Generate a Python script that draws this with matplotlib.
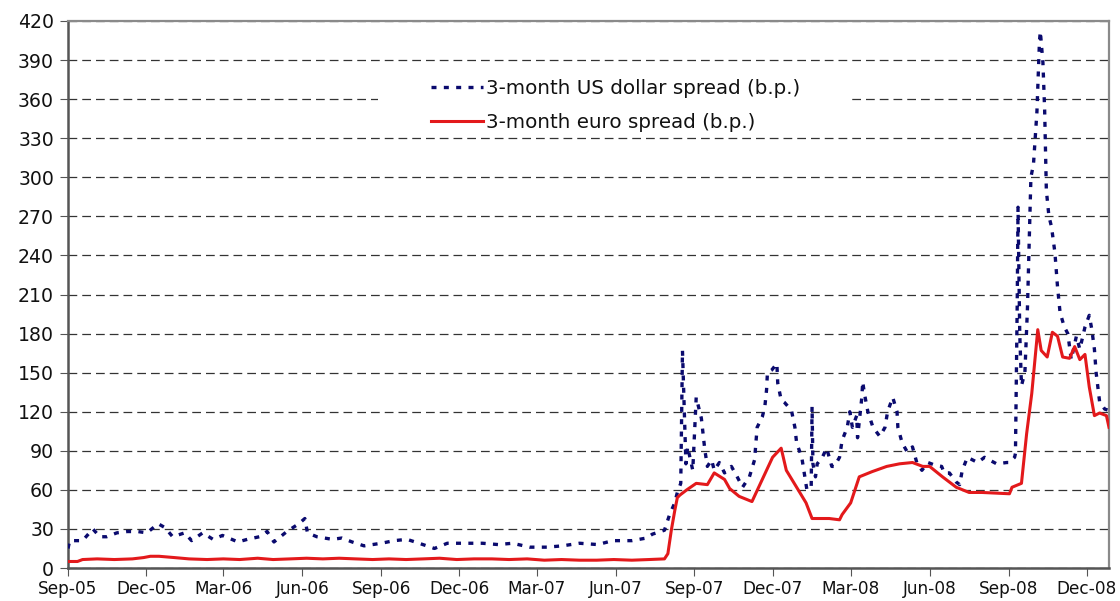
import numpy as np
import pandas as pd
import matplotlib
matplotlib.use('Agg')
import matplotlib.pyplot as plt
import matplotlib.dates as mdates
from matplotlib.patches import Rectangle

# 3-month US dollar spread (b.p.)
usd_dates = [
    '2005-09-01', '2005-09-03', '2005-09-18', '2005-09-30', '2005-10-08', '2005-10-16',
    '2005-10-28', '2005-11-09', '2005-11-21', '2005-12-02', '2005-12-15', '2005-12-23',
    '2006-01-01', '2006-01-15', '2006-01-23', '2006-02-05', '2006-02-17', '2006-02-28',
    '2006-03-18', '2006-03-29', '2006-04-12', '2006-04-21', '2006-04-29', '2006-05-14',
    '2006-05-28', '2006-06-04', '2006-06-07', '2006-06-18', '2006-07-06', '2006-07-17',
    '2006-07-29', '2006-08-12', '2006-09-01', '2006-09-16', '2006-10-01', '2006-10-15',
    '2006-11-02', '2006-11-17', '2006-12-07', '2006-12-28', '2007-01-15', '2007-02-01',
    '2007-02-21', '2007-03-13', '2007-03-31', '2007-04-20', '2007-05-11', '2007-05-29',
    '2007-06-20', '2007-07-07', '2007-07-14', '2007-07-28', '2007-08-03', '2007-08-09',
    '2007-08-12', '2007-08-16', '2007-08-18', '2007-08-22', '2007-08-24', '2007-08-30',
    '2007-09-03', '2007-09-09', '2007-09-13', '2007-09-16', '2007-09-21', '2007-09-24',
    '2007-09-30', '2007-10-06', '2007-10-14', '2007-10-20', '2007-10-27', '2007-11-04',
    '2007-11-10', '2007-11-13', '2007-11-19', '2007-11-22', '2007-11-24', '2007-11-25',
    '2007-11-30', '2007-12-06', '2007-12-07', '2007-12-11', '2007-12-15', '2007-12-23',
    '2007-12-27', '2007-12-29', '2008-01-04', '2008-01-10', '2008-01-15', '2008-01-16',
    '2008-01-17', '2008-01-20', '2008-01-22', '2008-01-28', '2008-02-02', '2008-02-08',
    '2008-02-11', '2008-02-17', '2008-02-20', '2008-02-26', '2008-02-29', '2008-03-03',
    '2008-03-08', '2008-03-09', '2008-03-14', '2008-03-15', '2008-03-17', '2008-03-21',
    '2008-03-27', '2008-04-04', '2008-04-10', '2008-04-13', '2008-04-19', '2008-04-24',
    '2008-04-25', '2008-04-30', '2008-05-06', '2008-05-12', '2008-05-17', '2008-05-23',
    '2008-05-30', '2008-06-07', '2008-06-15', '2008-06-18', '2008-06-24', '2008-07-02',
    '2008-07-06', '2008-07-09', '2008-07-15', '2008-07-27', '2008-08-04', '2008-08-18',
    '2008-08-30', '2008-09-02', '2008-09-08', '2008-09-09', '2008-09-11', '2008-09-12',
    '2008-09-14', '2008-09-16', '2008-09-20', '2008-09-23', '2008-09-27', '2008-09-30',
    '2008-10-04', '2008-10-07', '2008-10-08', '2008-10-11', '2008-10-13', '2008-10-15',
    '2008-10-18', '2008-10-21', '2008-10-25', '2008-10-28', '2008-10-31', '2008-11-05',
    '2008-11-09', '2008-11-13', '2008-11-19', '2008-11-23', '2008-11-29', '2008-12-04',
    '2008-12-07', '2008-12-10', '2008-12-12', '2008-12-16', '2008-12-22', '2008-12-27',
]
usd_spread = [
    15, 21, 21, 30, 24, 24,
    27, 28, 28, 27, 34, 31,
    24, 27, 21, 27, 22, 25,
    20, 22, 24, 28, 20, 28,
    34, 38, 27, 24, 22, 23,
    20, 17, 19, 21, 22, 19,
    15, 19, 19, 19, 18, 19,
    16, 16, 17, 19, 18, 21,
    21, 23, 26, 29, 41, 50,
    58, 65, 167, 80, 93, 75,
    131, 115, 91, 78, 83, 75,
    81, 73, 78, 71, 62, 70,
    83, 108, 116, 124, 137, 150,
    152, 157, 142, 129, 127, 121,
    108, 96, 85, 60, 62, 124,
    80, 70, 80, 85, 92, 78,
    78, 85, 98, 108, 120, 108,
    117, 100, 131, 143, 134, 120,
    108, 101, 108, 120, 131, 120,
    108, 96, 89, 93, 81, 75,
    81, 79, 78, 73, 73, 66,
    64, 75, 85, 81, 85, 80,
    81, 81, 85, 88, 200, 277,
    180, 140, 150, 200, 300, 310,
    350, 405, 412, 388, 352, 290,
    270, 262, 242, 216, 196, 185,
    180, 160, 178, 168, 185, 194,
    183, 168, 150, 128, 122, 121,
]

# 3-month euro spread (b.p.)
eur_dates = [
    '2005-09-01', '2005-09-12', '2005-09-18', '2005-10-05', '2005-10-25', '2005-11-15',
    '2005-11-28', '2005-12-06', '2005-12-16', '2006-01-03', '2006-01-20', '2006-02-10',
    '2006-03-01', '2006-03-20', '2006-04-10', '2006-04-28', '2006-05-18', '2006-06-06',
    '2006-06-25', '2006-07-14', '2006-08-02', '2006-08-22', '2006-09-10', '2006-09-30',
    '2006-10-20', '2006-11-08', '2006-11-28', '2006-12-18', '2007-01-08', '2007-01-28',
    '2007-02-18', '2007-03-10', '2007-03-30', '2007-04-20', '2007-05-10', '2007-05-30',
    '2007-06-20', '2007-07-10', '2007-07-28', '2007-08-01', '2007-08-05', '2007-08-09',
    '2007-08-12', '2007-08-15', '2007-08-23', '2007-09-03', '2007-09-16', '2007-09-24',
    '2007-10-06', '2007-10-12', '2007-10-23', '2007-11-07', '2007-11-19', '2007-12-01',
    '2007-12-11', '2007-12-17', '2007-12-29', '2008-01-09', '2008-01-16', '2008-02-05',
    '2008-02-17', '2008-02-20', '2008-03-01', '2008-03-11', '2008-03-26', '2008-04-12',
    '2008-04-27', '2008-05-12', '2008-05-24', '2008-06-01', '2008-06-16', '2008-07-02',
    '2008-07-17', '2008-08-01', '2008-09-02', '2008-09-05', '2008-09-16', '2008-09-22',
    '2008-09-28', '2008-10-05', '2008-10-09', '2008-10-16', '2008-10-22', '2008-10-28',
    '2008-11-03', '2008-11-11', '2008-11-17', '2008-11-23', '2008-11-29', '2008-12-04',
    '2008-12-10', '2008-12-16', '2008-12-24', '2008-12-27',
]
eur_spread = [
    5, 5, 6.5, 7, 6.5, 7,
    8, 9, 9, 8, 7, 6.5,
    7, 6.5, 7.5, 6.5, 7, 7.5,
    7, 7.5, 7, 6.5, 7, 6.5,
    7, 7.5, 6.5, 7, 7, 6.5,
    7, 6, 6.5, 6, 6, 6.5,
    6, 6.5, 7, 11, 29, 44,
    54, 56, 60, 65, 64, 73,
    68, 61, 55, 51, 68, 85,
    92, 75, 62, 50, 38, 38,
    37, 41, 50, 70, 74, 78,
    80, 81, 78, 78, 70, 62,
    58, 58, 57, 62, 65, 103,
    134, 183, 167, 162, 181, 178,
    162, 161, 170, 160, 164, 139,
    117, 119, 117, 108,
]

y_ticks = list(range(0, 421, 30))

usd_x = pd.to_datetime(usd_dates)
eur_x = pd.to_datetime(eur_dates)

# the source text is a wide sans, DejaVu matches its width best
plt.rcParams['font.family'] = ['DejaVu Sans']

fig = plt.figure(figsize=(11.2, 6.01), dpi=100)
ax = fig.add_axes([68/1120, 33/601, (1109-68)/1120, (568-21)/601])

ax.plot(usd_x, usd_spread, color='#0a0a6e', lw=2.4, linestyle=(0, (1.5, 2.2)),
        label='3-month US dollar spread (b.p.)', zorder=3)
ax.plot(eur_x, eur_spread, color='#e3191b', lw=2.2,
        label='3-month euro spread (b.p.)', zorder=4)

ax.set_ylim(0, 420)
ax.set_yticks(y_ticks)
ax.set_xlim(pd.Timestamp('2005-09-01'), pd.Timestamp('2008-12-27'))
ax.xaxis.set_major_locator(mdates.MonthLocator(bymonth=[3, 6, 9, 12], bymonthday=1))
ax.xaxis.set_major_formatter(mdates.DateFormatter('%b-%y'))

ax.yaxis.grid(True, linestyle=(0, (7, 4)), color='#333333', lw=0.9)
ax.set_axisbelow(True)

for side in ['top', 'right']:
    ax.spines[side].set_color('#8a8a8a')
    ax.spines[side].set_linewidth(1.6)
for side in ['left', 'bottom']:
    ax.spines[side].set_color('#555555')
    ax.spines[side].set_linewidth(1.8)

ax.tick_params(axis='y', labelsize=13.6, direction='out', length=6, color='#555555',
               pad=4, labelcolor='#111111')
ax.tick_params(axis='x', labelsize=12.2, direction='out', length=6, color='#555555',
               pad=3, labelcolor='#111111')

# white box behind the legend hides the grid line there
ax.add_patch(Rectangle((0.298, 0.80), 0.451, 0.115, transform=ax.transAxes,
                       facecolor='white', edgecolor='none', zorder=2))

ax.legend(loc='upper left', bbox_to_anchor=(0.349, 0.894), frameon=False,
          fontsize=14.3, handlelength=2.6, handletextpad=0.15, labelspacing=0.75,
          borderpad=0, borderaxespad=0, labelcolor='#111111')

fig.savefig('out.png', dpi=100)
